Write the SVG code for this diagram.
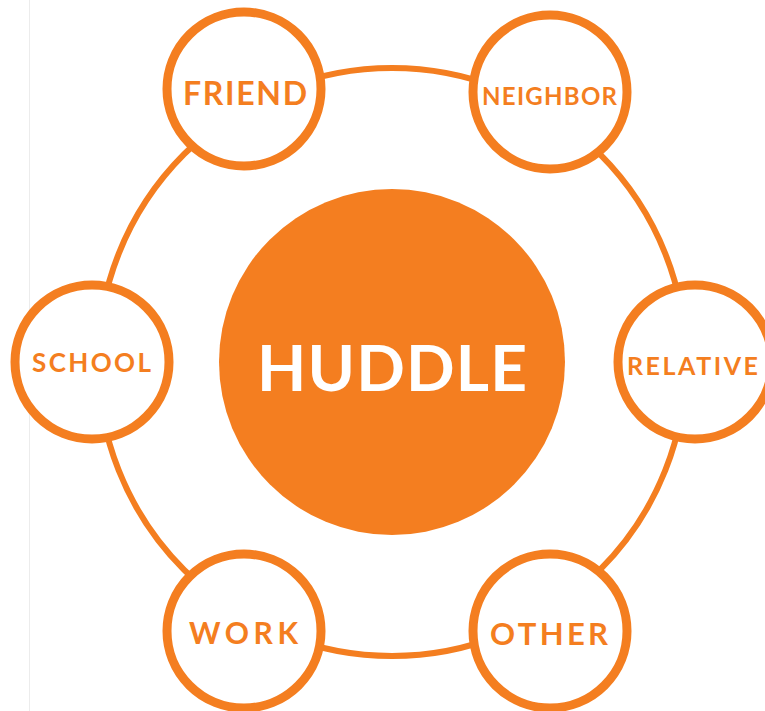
<svg xmlns="http://www.w3.org/2000/svg" width="765" height="711" viewBox="0 0 765 711">
<style>
.node{fill:#fff;stroke:#F47E20;stroke-width:9}
.lbl{font-family:Lato,"Liberation Sans",sans-serif;font-weight:700;fill:#F47E20}
.ring{fill:none;stroke:#F47E20;stroke-width:6}
</style>
<rect width="765" height="711" fill="#fff"/>
<line x1="29.5" y1="0" x2="29.5" y2="711" stroke="#ececec" stroke-width="1"/>
<g id="connectors">
<circle class="ring" cx="392" cy="362" r="294"/>
</g>
<g id="huddle">
<circle cx="392" cy="362" r="173" fill="#F47E20"/>
<text class="lbl" x="257" y="391" font-size="64" textLength="270" lengthAdjust="spacing" style="fill:#fff">HUDDLE</text>
</g>
<g id="friend">
<circle class="node" cx="244" cy="89" r="77"/>
<text class="lbl" x="183" y="105" font-size="32" textLength="124" lengthAdjust="spacing">FRIEND</text>
</g>
<g id="neighbor">
<circle class="node" cx="550" cy="92" r="77"/>
<text class="lbl" x="482" y="105" font-size="24" textLength="135" lengthAdjust="spacing">NEIGHBOR</text>
</g>
<g id="school">
<circle class="node" cx="92" cy="362" r="77"/>
<text class="lbl" x="32" y="372" font-size="26" textLength="119" lengthAdjust="spacing">SCHOOL</text>
</g>
<g id="relative">
<circle class="node" cx="695" cy="362" r="77"/>
<text class="lbl" x="627" y="375" font-size="25" textLength="131" lengthAdjust="spacing">RELATIVE</text>
</g>
<g id="work">
<circle class="node" cx="244" cy="631" r="77"/>
<text class="lbl" x="189" y="644" font-size="30" textLength="109" lengthAdjust="spacing">WORK</text>
</g>
<g id="other">
<circle class="node" cx="550" cy="631" r="77"/>
<text class="lbl" x="490" y="645" font-size="31" textLength="118" lengthAdjust="spacing">OTHER</text>
</g>
</svg>
